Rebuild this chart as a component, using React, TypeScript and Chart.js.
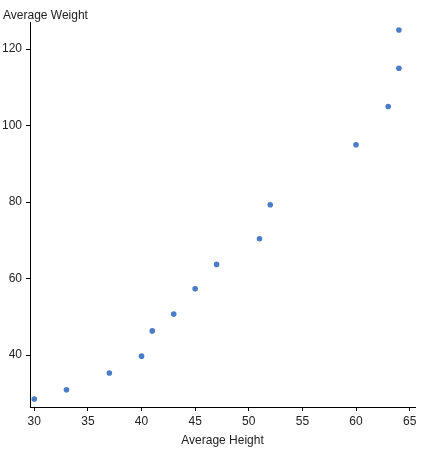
import { useEffect, useRef } from 'react'
import { Chart, registerables } from 'chart.js'

Chart.register(...registerables)

const heights = [30, 33, 37, 40, 41, 43, 45, 47, 51, 52, 60, 63, 64, 64]
const weights = [28.5, 30.9, 35.3, 39.7, 46.3, 50.7, 57.3, 63.7, 70.4, 79.3, 95, 105, 115, 125]
const xTicks = [30, 35, 40, 45, 50, 55, 60, 65]
const yTicks = [40, 60, 80, 100, 120]

const FONT = 'Arial, "Liberation Sans", sans-serif'
const INK = '#222'

export default function App() {
  const canvasRef = useRef<HTMLCanvasElement>(null)

  useEffect(() => {
    if (!canvasRef.current) return
    const axisGrid = {
      display: true,
      drawOnChartArea: false,
      drawTicks: true,
      tickLength: 4,
      color: '#000',
    }
    const chart = new Chart(canvasRef.current, {
      type: 'scatter',
      data: {
        datasets: [
          {
            label: 'Weight',
            data: heights.map((h, i) => ({ x: h, y: weights[i] })),
            backgroundColor: '#4a7cc7',
            borderWidth: 0,
            pointRadius: 2.8,
          },
        ],
      },
      options: {
        animation: false,
        responsive: true,
        maintainAspectRatio: false,
        layout: { padding: { left: 3, right: 19, top: 0, bottom: 0 } },
        plugins: {
          legend: { display: false },
          tooltip: { enabled: false },
          title: {
            display: true,
            text: 'Average Weight',
            align: 'start',
            color: INK,
            font: { family: FONT, size: 12, weight: 'normal' },
            padding: { top: 8, bottom: 0 },
          },
        },
        scales: {
          x: {
            type: 'linear',
            min: 29.6,
            max: 65.5,
            grid: axisGrid,
            border: { display: true, color: '#000', width: 1 },
            ticks: { color: INK, padding: 3, font: { family: FONT, size: 12 } },
            afterBuildTicks: (s) => {
              s.ticks = xTicks.map((v) => ({ value: v }))
            },
            afterFit: (s) => {
              s.height = 43
            },
            title: {
              display: true,
              text: 'Average Height',
              color: INK,
              font: { family: FONT, size: 12 },
              padding: { top: 0, bottom: 2 },
            },
          },
          y: {
            type: 'linear',
            min: 26.4,
            max: 127,
            grid: axisGrid,
            border: { display: true, color: '#000', width: 1 },
            ticks: { color: INK, padding: 4, font: { family: FONT, size: 12 } },
            afterBuildTicks: (s) => {
              s.ticks = yTicks.map((v) => ({ value: v }))
            },
            afterFit: (s) => {
              s.width = 27
            },
          },
        },
      },
    })
    return () => chart.destroy()
  }, [])

  return (
    <div style={{ position: 'fixed', left: 0, top: 0, width: 434, height: 450 }}>
      <canvas ref={canvasRef} />
    </div>
  )
}
